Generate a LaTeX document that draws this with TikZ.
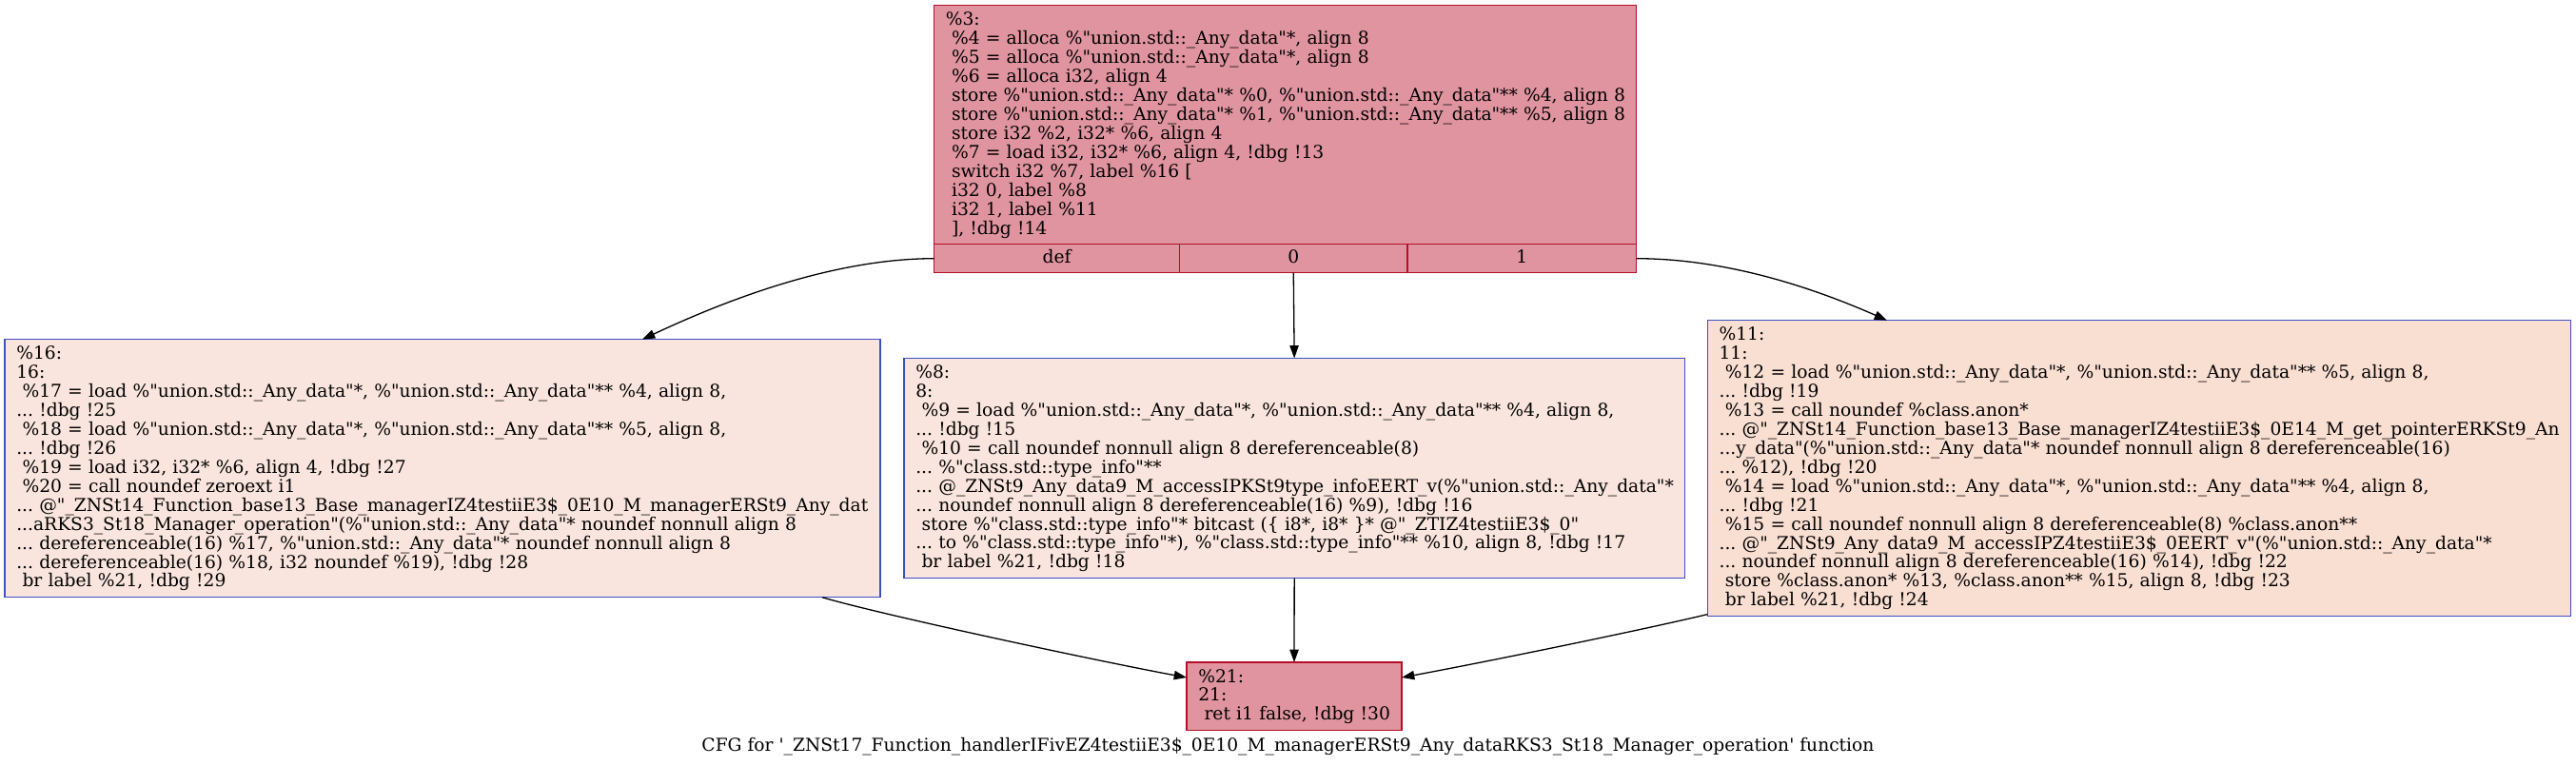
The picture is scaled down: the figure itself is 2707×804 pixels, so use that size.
\documentclass[tikz,border=0pt]{standalone}
\usepackage{fontspec}
\setmainfont{DejaVu Serif}[Ligatures=TeXOff]
\usetikzlibrary{arrows.meta,calc}
\frenchspacing
\definecolor{hotfill}{RGB}{223,148,160}
\definecolor{hotline}{RGB}{183,13,40}
\definecolor{coolfill}{RGB}{249,229,221}
\definecolor{warmfill}{RGB}{249,222,210}
\definecolor{coldline}{RGB}{61,80,195}
\tikzset{
  blk/.style={draw, line width=1.3pt, anchor=north west, outer sep=0pt,
    inner xsep=12.3pt, inner ysep=0pt, text height=21pt, align=left,
    font=\fontsize{18.67pt}{19.94pt}\selectfont\frenchspacing},
  hot/.style={fill=hotfill, draw=hotline},
  cool/.style={fill=coolfill, draw=coldline},
  warm/.style={fill=warmfill, draw=coldline},
  fld/.style={draw=hotline, fill=hotfill, line width=1.3pt, anchor=north west, outer sep=0pt,
    inner sep=0pt, minimum height=30pt, text height=20pt, text depth=10pt,
    font=\fontsize{18.67pt}{19.94pt}\selectfont},
  cfgarrow/.style={draw=black, line width=1.3pt, -{Triangle[length=13.3pt,width=9.3pt]}},
  capt/.style={anchor=base, inner sep=0pt, font=\fontsize{18.67pt}{19.94pt}\selectfont\frenchspacing}
}
\begin{document}
\begin{tikzpicture}[x=1pt,y=-1pt]
\useasboundingbox (0,0) rectangle (2707,804);

% top block %3
\node[blk, hot, text width=713.4pt, text depth=230.04pt] (n3) at (981.5,5.7) {%
\mbox{\%3:}\\
\mbox{\ \%4 = alloca \%"union.std::\_Any\_data"*, align 8}\\
\mbox{\ \%5 = alloca \%"union.std::\_Any\_data"*, align 8}\\
\mbox{\ \%6 = alloca i32, align 4}\\
\mbox{\ store \%"union.std::\_Any\_data"* \%0, \%"union.std::\_Any\_data"** \%4, align 8}\\
\mbox{\ store \%"union.std::\_Any\_data"* \%1, \%"union.std::\_Any\_data"** \%5, align 8}\\
\mbox{\ store i32 \%2, i32* \%6, align 4}\\
\mbox{\ \%7 = load i32, i32* \%6, align 4, !dbg !13}\\
\mbox{\ switch i32 \%7, label \%16 [}\\
\mbox{\ i32 0, label \%8}\\
\mbox{\ i32 1, label \%11}\\
\mbox{\ ], !dbg !14}};
\node[fld, minimum width=258.1pt] (fdef) at (981.5,256.7) {def};
\node[fld, minimum width=239.3pt] (f0) at (1239.6,256.7) {0};
\node[fld, minimum width=240.6pt] (f1) at (1478.9,256.7) {1};

% left block %16
\node[blk, cool, text width=895.4pt, text depth=250.0pt] (n16) at (5,356.7) {%
\mbox{\%16:}\\
\mbox{16:}\\
\mbox{\ \%17 = load \%"union.std::\_Any\_data"*, \%"union.std::\_Any\_data"** \%4, align 8,}\\
\mbox{... !dbg !25}\\
\mbox{\ \%18 = load \%"union.std::\_Any\_data"*, \%"union.std::\_Any\_data"** \%5, align 8,}\\
\mbox{... !dbg !26}\\
\mbox{\ \%19 = load i32, i32* \%6, align 4, !dbg !27}\\
\mbox{\ \%20 = call noundef zeroext i1}\\
\mbox{... @"\_ZNSt14\_Function\_base13\_Base\_managerIZ4testiiE3\$\_0E10\_M\_managerERSt9\_Any\_dat}\\
\mbox{...aRKS3\_St18\_Manager\_operation"(\%"union.std::\_Any\_data"* noundef nonnull align 8}\\
\mbox{... dereferenceable(16) \%17, \%"union.std::\_Any\_data"* noundef nonnull align 8}\\
\mbox{... dereferenceable(16) \%18, i32 noundef \%19), !dbg !28}\\
\mbox{\ br label \%21, !dbg !29}};

% middle block %8
\node[blk, cool, text width=795.7pt, text depth=210.1pt] (n8) at (950,376.5) {%
\mbox{\%8:}\\
\mbox{8:}\\
\mbox{\ \%9 = load \%"union.std::\_Any\_data"*, \%"union.std::\_Any\_data"** \%4, align 8,}\\
\mbox{... !dbg !15}\\
\mbox{\ \%10 = call noundef nonnull align 8 dereferenceable(8)}\\
\mbox{... \%"class.std::type\_info"**}\\
\mbox{... @\_ZNSt9\_Any\_data9\_M\_accessIPKSt9type\_infoEERT\_v(\%"union.std::\_Any\_data"*}\\
\mbox{... noundef nonnull align 8 dereferenceable(16) \%9), !dbg !16}\\
\mbox{\ store \%"class.std::type\_info"* bitcast (\{ i8*, i8* \}* @"\_ZTIZ4testiiE3\$\_0"}\\
\mbox{... to \%"class.std::type\_info"*), \%"class.std::type\_info"** \%10, align 8, !dbg !17}\\
\mbox{\ br label \%21, !dbg !18}};

% right block %11
\node[blk, warm, text width=882.8pt, text depth=289.9pt] (n11) at (1794.3,336.7) {%
\mbox{\%11:}\\
\mbox{11:}\\
\mbox{\ \%12 = load \%"union.std::\_Any\_data"*, \%"union.std::\_Any\_data"** \%5, align 8,}\\
\mbox{... !dbg !19}\\
\mbox{\ \%13 = call noundef \%class.anon*}\\
\mbox{... @"\_ZNSt14\_Function\_base13\_Base\_managerIZ4testiiE3\$\_0E14\_M\_get\_pointerERKSt9\_An}\\
\mbox{...y\_data"(\%"union.std::\_Any\_data"* noundef nonnull align 8 dereferenceable(16)}\\
\mbox{... \%12), !dbg !20}\\
\mbox{\ \%14 = load \%"union.std::\_Any\_data"*, \%"union.std::\_Any\_data"** \%4, align 8,}\\
\mbox{... !dbg !21}\\
\mbox{\ \%15 = call noundef nonnull align 8 dereferenceable(8) \%class.anon**}\\
\mbox{... @"\_ZNSt9\_Any\_data9\_M\_accessIPZ4testiiE3\$\_0EERT\_v"(\%"union.std::\_Any\_data"*}\\
\mbox{... noundef nonnull align 8 dereferenceable(16) \%14), !dbg !22}\\
\mbox{\ store \%class.anon* \%13, \%class.anon** \%15, align 8, !dbg !23}\\
\mbox{\ br label \%21, !dbg !24}};

% bottom block %21
\node[blk, hot, text width=201.4pt, text depth=50.6pt] (n21) at (1247,696) {%
\mbox{\%21:}\\
\mbox{21:}\\
\mbox{\ ret i1 false, !dbg !30}};

% caption
\node[capt] (cap) at (1353.5,789) {CFG for '\_ZNSt17\_Function\_handlerIFivEZ4testiiE3\$\_0E10\_M\_managerERSt9\_Any\_dataRKS3\_St18\_Manager\_operation' function};

% edges
\draw[cfgarrow] (fdef.west) .. controls (880,271.7) and (770,312) .. ($(n16.north west)+(670,0)$);
\draw[cfgarrow] (f0.south) -- (n8.north);
\draw[cfgarrow] (f1.east) .. controls (1810,271.7) and (1900,300) .. ($(n11.north west)+(188.7,0)$);
\draw[cfgarrow] ($(n16.south east)+(-61,0)$) .. controls (924,645.5) and (1150,694) .. ($(n21.north west)+(0,16)$);
\draw[cfgarrow] ($(n11.south west)+(0,-2)$) .. controls (1730,661) and (1570,694) .. ($(n21.north east)+(0,16)$);
\draw[cfgarrow] (n8.south) -- (n21.north);
\end{tikzpicture}
\end{document}
